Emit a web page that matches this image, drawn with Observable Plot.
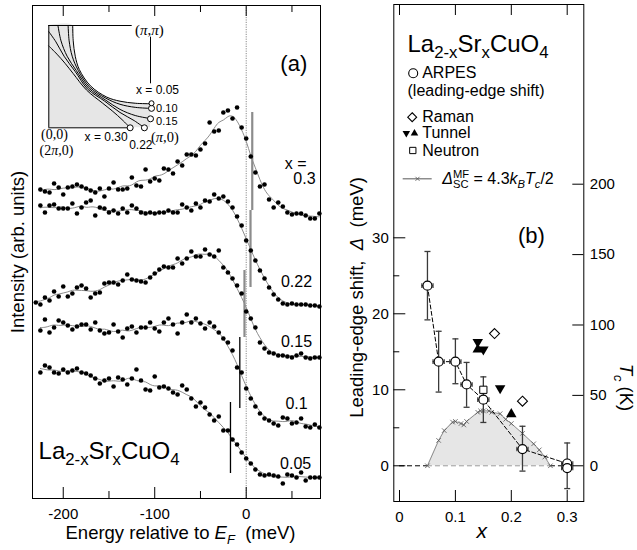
<!DOCTYPE html>
<html>
<head>
<meta charset="utf-8">
<script src="https://cdn.jsdelivr.net/npm/d3@7"></script>
<script src="https://cdn.jsdelivr.net/npm/@observablehq/plot@0.6"></script>
<style>
  html, body { margin: 0; padding: 0; background: #fff; }
  #fig { position: relative; width: 637px; height: 550px; overflow: hidden; background: #fff; }
  #fig svg { position: absolute; }
</style>
</head>
<body>
<div id="fig"></div>
<script>
// ---------- (a) ARPES spectra near (pi,0), offset vertically ----------
const energy = [-230,-225,-220,-215,-210,-205,-200,-195,-190,-185,-180,-175,-170,-165,-160,-155,-150,-145,-140,-135,-130,-125,-120,-115,-110,-105,-100,-95,-90,-85,-80,-75,-70,-65,-60,-55,-50,-45,-40,-35,-30,-25,-20,-15,-10,-5,0,5,10,15,20,25,30,35,40,45,50,55,60,65,70,75,80];

const int03 = [null,309,307,306,315,311,304,311,312,314,312,310,308,306,310,302,310,316,309,309,310,321,313,312,329,317,320,318,330,329,325,337,333,344,344,343,349,355,376,367,368,386,388,380,391,371,360,342,326,312,314,299,291,296,292,286,284,285,285,283,280,280,285];
const int022 = [null,293,286,293,294,290,290,290,295,285,291,296,298,283,291,290,286,288,285,290,286,293,290,286,285,286,285,286,286,288,286,286,294,291,288,295,291,298,297,304,300,302,297,291,282,273,258,248,238,228,220,211,204,199,195,194,195,194,194,194,193,193,192];
const int015 = [196,194,201,198,207,202,212,202,205,211,213,210,201,205,206,215,216,216,214,218,224,219,218,217,216,221,225,229,232,231,231,240,235,240,247,242,242,249,244,242,248,231,226,220,213,205,187,180,171,156,150,146,145,143,143,142,141,143,145,141,140,141,141];
const int01 = [null,168,179,166,171,178,176,173,169,172,174,174,169,176,168,165,166,174,167,161,170,172,166,171,171,176,170,167,176,180,174,165,176,184,176,180,175,170,176,172,166,160,156,148,131,126,110,100,92,85,80,78,75,73,81,80,75,76,80,72,71,74,71];
const int005 = [null,126,133,131,126,125,129,126,128,130,126,125,123,120,115,118,120,112,121,119,114,120,129,118,109,108,122,111,112,110,106,104,113,109,100,92,96,91,84,78,82,68,68,59,54,46,40,35,29,24,23,24,23,22,15,24,23,21,26,18,21,21,21];

const spectraDoping = ["0.3", "0.22", "0.15", "0.1", "0.05"];
const spectraValues = [int03, int022, int015, int01, int005];

// leading-edge midpoint of each spectrum (meV) and the span of its marker
const edgeE = [6.6, 4.7, -1.9, -7.0, -17.2];
const edgeTop = [386, 288, 228, 161, 96];
const edgeBottom = [288, 211, 161, 90, 25];

const energyMajorTicks = [-200, -100, 0];
const energyMinorTicks = [-150, -50, 50];

// ---------- inset: Fermi surfaces in the first quadrant (units of pi) ----------
const fsDoping = ["0.05", "0.10", "0.15", "0.22", "0.30"];
const fs005 = [[0.235,1],[0.24,0.85],[0.26,0.7],[0.3,0.57],[0.41,0.41],[0.57,0.3],[0.7,0.26],[0.85,0.24],[1,0.235]];
const fs010 = [[0.19,1],[0.2,0.85],[0.23,0.7],[0.29,0.56],[0.4,0.4],[0.56,0.29],[0.7,0.23],[0.85,0.2],[1,0.19]];
const fs015 = [[0.09,1],[0.12,0.85],[0.18,0.7],[0.27,0.56],[0.39,0.39],[0.56,0.27],[0.7,0.18],[0.85,0.12],[1,0.09]];
const fs022 = [[0,0.94],[0.07,0.84],[0.15,0.7],[0.26,0.55],[0.38,0.38],[0.55,0.26],[0.7,0.15],[0.84,0.07],[0.94,0]];
const fs030 = [[0,0.8],[0.08,0.72],[0.16,0.63],[0.24,0.53],[0.37,0.37],[0.53,0.24],[0.63,0.16],[0.72,0.08],[0.8,0]];
const fsCurves = [fs005, fs010, fs015, fs022, fs030];
const spotKx = [1.01, 1.01, 1.0, 0.94, 0.80];
const spotKy = [0.24, 0.19, 0.088, 0, 0];

// ---------- (b) gap versus doping ----------
const arpesX = [0.05, 0.07, 0.10, 0.12, 0.15, 0.22, 0.30, 0.30];
const arpesGap = [23.7, 13.7, 13.7, 10.7, 8.7, 2.2, 0.3, -0.3];
const arpesHi = [28.2, 17.7, 16.7, 13.6, 11.7, 5.2, 3.0, null];
const arpesLo = [19.2, 9.7, 10.8, 7.7, 5.7, -0.7, -3.0, null];
const arpesXErr = 0.01;

const ramanX = [0.17, 0.22];
const ramanGap = [17.4, 8.5];
const tunnelDownX = [0.14, 0.15, 0.18];
const tunnelDownGap = [16.3, 15.3, 10.2];
const tunnelUpX = [0.14, 0.20];
const tunnelUpGap = [15.3, 6.8];
const neutronX = [0.15];
const neutronGap = [10.0];

// superconducting Tc (K) used for the mean-field gap
const mfX = [0.05, 0.07, 0.08, 0.095, 0.10, 0.11, 0.115, 0.12, 0.14, 0.145, 0.15, 0.16, 0.165, 0.18, 0.19, 0.20, 0.22, 0.24, 0.25, 0.26, 0.27];
const mfTc = [0, 18, 25, 31, 31.5, 30, 29, 31.5, 38, 39, 39, 39, 38, 37, 33, 30, 23, 15.6, 11.3, 6.2, 0];

const gapMajorTicks = [0, 10, 20, 30];
const gapMinorTicks = [5, 15, 25];
const tcTicks = [0, 50, 100, 150, 200];
const dopingTicks = [0, 0.1, 0.2, 0.3];

// Delta_MF = 4.3 k_B Tc / 2, in meV per K
const kMF = 4.3 * 0.08617 / 2;

const FONT = "'Liberation Sans', Arial, Helvetica, sans-serif";
const SERIF = "'Liberation Serif', 'Times New Roman', serif";
const svgStyle = {fontFamily: FONT, background: "transparent", overflow: "visible", color: "black"};

// short horizontal / vertical bars used as error-bar caps
const hCap = {draw(ctx, size) { const w = Math.sqrt(size) / 2; ctx.moveTo(-w, 0); ctx.lineTo(w, 0); }};
const vCap = {draw(ctx, size) { const h = Math.sqrt(size) / 2; ctx.moveTo(0, -h); ctx.lineTo(0, h); }};

// ================= panel (a) =================
const rowsA = [];
spectraDoping.forEach((x, j) => spectraValues[j].forEach((v, i) => {
  if (v != null) rowsA.push({x, E: energy[i], I: v});
}));
const edges = spectraDoping.map((x, j) => ({x, E: edgeE[j], top: edgeTop[j], bottom: edgeBottom[j], dark: j >= 3}));

const innerHA = 550 - 5 - 52;
const plotA = Plot.plot({
  width: 330, height: 550,
  marginLeft: 32, marginRight: 10, marginTop: 5, marginBottom: 52,
  x: {domain: [-233.6, 81.2], axis: null, label: null},
  y: {domain: [0, 493], axis: null, label: null},
  style: svgStyle,
  marks: [
    Plot.ruleX([0], {stroke: "#8a8a8a", strokeDasharray: "1.2,1.2"}),
    Plot.lineY(rowsA, Plot.windowY({k: 5, anchor: "middle"}, {x: "E", y: "I", z: "x", stroke: "#8c8c8c", strokeWidth: 1, curve: "basis"})),
    Plot.ruleX(edges, {x: "E", y1: "bottom", y2: "top", stroke: d => d.dark ? "#000000" : "#8c8c8c", strokeWidth: d => d.dark ? 1.3 : 2.2}),
    Plot.dot(rowsA, {x: "E", y: "I", r: 2.3, fill: "black"}),
    // curve labels
    Plot.text(["x ="], {x: 54, y: 335, text: d => d, fontSize: 16}),
    Plot.text(["0.3"], {x: 63.7, y: 320, text: d => d, fontSize: 16}),
    Plot.text(["0.22"], {x: 55, y: 217, text: d => d, fontSize: 16}),
    Plot.text(["0.15"], {x: 55, y: 157, text: d => d, fontSize: 16}),
    Plot.text(["0.1"], {x: 55, y: 95, text: d => d, fontSize: 16}),
    Plot.text(["0.05"], {x: 54, y: 35, text: d => d, fontSize: 16}),
    Plot.text(["(a)"], {x: 52, y: 435, text: d => d, fontSize: 22}),
    Plot.text(["La_{2-x}Sr_{x}CuO_{4}"], {x: -227, y: 40, text: d => d, fontSize: 24, textAnchor: "start", lineAnchor: "bottom"}),
    // frame and inward ticks
    Plot.frame({stroke: "black"}),
    Plot.ruleX(energyMajorTicks, {insetTop: innerHA - 11, stroke: "black"}),
    Plot.ruleX(energyMinorTicks, {insetTop: innerHA - 7, stroke: "black"}),
    Plot.ruleX(energyMajorTicks, {insetBottom: innerHA - 11, stroke: "black"}),
    Plot.ruleX(energyMinorTicks, {insetBottom: innerHA - 7, stroke: "black"}),
    Plot.axisX(energyMajorTicks, {anchor: "bottom", tickSize: 0, tickPadding: 10, fontSize: 15, tickFormat: d => String(d), label: null}),
    Plot.text(["Energy relative to *E*_{*F*}  (meV)"], {frameAnchor: "bottom", dx: 4, dy: 40, textAnchor: "middle", lineAnchor: "bottom", text: d => d, fontSize: 18.5}),
    Plot.text(["Intensity (arb. units)"], {frameAnchor: "left", dx: -14, rotate: -90, textAnchor: "middle", lineAnchor: "middle", text: d => d, fontSize: 18.5})
  ]
});

// ================= inset =================
const fsRows = [];
fsDoping.forEach((x, j) => fsCurves[j].forEach(([kx, ky]) => fsRows.push({x, kx, ky})));
const fsFill = [{kx: 0, ky: 1}, ...fs005.map(([kx, ky]) => ({kx, ky}))];
const spots = fsDoping.map((x, j) => ({x, kx: spotKx[j], ky: spotKy[j]}));

const inset = Plot.plot({
  width: 150, height: 142,
  marginLeft: 10.3, marginRight: 38, marginTop: 10, marginBottom: 29.7,
  x: {domain: [0, 1], axis: null, label: null},
  y: {domain: [0, 1], axis: null, label: null},
  style: svgStyle,
  marks: [
    Plot.areaY(fsFill, {x: "kx", y: "ky", fill: "#e6e6e6", curve: "catmull-rom"}),
    Plot.line(fsRows, {x: "kx", y: "ky", z: "x", stroke: "black", strokeWidth: 1, curve: "catmull-rom"}),
    Plot.ruleY([1], {x1: 0, x2: 0.82, stroke: "black"}),
    Plot.ruleY([0], {x1: 0, x2: 0.8, stroke: "black"}),
    Plot.ruleX([0], {y1: 0, y2: 1, stroke: "black"}),
    Plot.ruleX([1], {y1: 0.43, y2: 0.886, stroke: "black"}),
    Plot.dot(spots, {x: "kx", y: "ky", r: d => d.x === "0.05" ? 3 : 4.3, fill: "white", stroke: "black", strokeWidth: 1}),
    Plot.text(["(*π*,*π*)"], {x: 0.99, y: 0.951, text: d => d, fontFamily: SERIF, fontSize: 15}),
    Plot.text(["x = 0.05"], {x: 1.069, y: 0.365, text: d => d, fontSize: 12}),
    Plot.text(["0.10"], {x: 1.055, y: 0.19, text: d => d, fontSize: 11, textAnchor: "start"}),
    Plot.text(["0.15"], {x: 1.055, y: 0.058, text: d => d, fontSize: 11, textAnchor: "start"}),
    Plot.text(["x = 0.30"], {x: 0.775, y: -0.092, text: d => d, fontSize: 12, textAnchor: "end"}),
    Plot.text(["0.22"], {x: 0.79, y: -0.165, text: d => d, fontSize: 12, textAnchor: "start"}),
    Plot.text(["(*π*,0)"], {x: 1.005, y: -0.092, text: d => d, fontFamily: SERIF, fontSize: 14.5, textAnchor: "start"}),
    Plot.text(["(0,0)"], {x: 0.056, y: -0.07, text: d => d, fontFamily: SERIF, fontSize: 14}),
    Plot.text(["(2*π*,0)"], {x: 0.076, y: -0.225, text: d => d, fontFamily: SERIF, fontSize: 14})
  ]
});

// ================= panel (b) =================
const arpes = arpesX.map((x, i) => ({x, gap: arpesGap[i], lo: arpesLo[i], hi: arpesHi[i]}));
const arpesBars = arpes.filter(d => d.hi != null);
const mf = mfX.map((x, i) => ({x, gap: mfTc[i] * kMF}));
const raman = ramanX.map((x, i) => ({x, gap: ramanGap[i]}));
const tunnelDown = tunnelDownX.map((x, i) => ({x, gap: tunnelDownGap[i]}));
const tunnelUp = tunnelUpX.map((x, i) => ({x, gap: tunnelUpGap[i]}));
const neutron = neutronX.map((x, i) => ({x, gap: neutronGap[i]}));

const innerWB = 307 - 63.3 - 53.7;
const innerHB = 550 - 4 - 49;
const barColor = "#3a3a3a";
const plotB = Plot.plot({
  width: 307, height: 550,
  marginLeft: 63.3, marginRight: 53.7, marginTop: 4, marginBottom: 49,
  x: {domain: [-0.0102, 0.3297], axis: null, label: null},
  y: {domain: [-4.7, 60.7], axis: null, label: null},
  style: svgStyle,
  marks: [
    Plot.areaY(mf, {x: "x", y: "gap", fill: "#e6e6e6"}),
    Plot.ruleY([0], {x1: 0, x2: 0.05, stroke: "black", strokeDasharray: "5,3"}),
    Plot.ruleY([0], {x1: 0.05, x2: 0.27, stroke: "#9a9a9a", strokeDasharray: "5,3"}),
    Plot.ruleY([0], {x1: 0.27, x2: 0.30, stroke: "black", strokeDasharray: "5,3"}),
    Plot.line(mf, {x: "x", y: "gap", stroke: "#8c8c8c", strokeWidth: 1}),
    Plot.dot(mf, {x: "x", y: "gap", symbol: "times", r: 2.2, stroke: "#555", strokeWidth: 0.8}),
    Plot.line(arpesBars, {x: "x", y: "gap", stroke: "black", strokeWidth: 1, strokeDasharray: "4,2.5"}),
    // error bars
    Plot.ruleX(arpesBars, {x: "x", y1: "lo", y2: "hi", stroke: barColor, strokeWidth: 1.3}),
    Plot.dot(arpesBars, {x: "x", y: "hi", symbol: hCap, r: 3.4, fill: "none", stroke: barColor, strokeWidth: 1.3}),
    Plot.dot(arpesBars, {x: "x", y: "lo", symbol: hCap, r: 3.4, fill: "none", stroke: barColor, strokeWidth: 1.3}),
    Plot.ruleY(arpes, {y: "gap", x1: d => d.x - arpesXErr, x2: d => d.x + arpesXErr, stroke: barColor, strokeWidth: 1.2}),
    Plot.dot(arpes, {x: d => d.x - arpesXErr, y: "gap", symbol: vCap, r: 2.6, fill: "none", stroke: barColor, strokeWidth: 1.2}),
    Plot.dot(arpes, {x: d => d.x + arpesXErr, y: "gap", symbol: vCap, r: 2.6, fill: "none", stroke: barColor, strokeWidth: 1.2}),
    Plot.dot(arpes, {x: "x", y: "gap", r: 4.5, fill: "white", stroke: "black", strokeWidth: 1.2}),
    Plot.dot(raman, {x: "x", y: "gap", symbol: "diamond2", r: 4.5, fill: "white", stroke: "black", strokeWidth: 1.1}),
    Plot.dot(tunnelDown, {x: "x", y: "gap", symbol: "triangle", r: 3.9, fill: "black", rotate: 180}),
    Plot.dot(tunnelUp, {x: "x", y: "gap", symbol: "triangle", r: 3.9, fill: "black"}),
    Plot.dot(neutron, {x: "x", y: "gap", symbol: "square2", r: 4.6, fill: "white", stroke: "black", strokeWidth: 1}),
    // legend
    Plot.text(["La_{2-x}Sr_{x}CuO_{4}"], {x: 0.0143, y: 54.5, text: d => d, fontSize: 24, textAnchor: "start", lineAnchor: "bottom"}),
    Plot.dot([0], {x: 0.0245, y: 51.66, r: 4.5, fill: "white", stroke: "black", strokeWidth: 1.1}),
    Plot.text(["ARPES"], {x: 0.0406, y: 51.66, text: d => d, fontSize: 16, textAnchor: "start"}),
    Plot.text(["(leading-edge shift)"], {x: 0.0143, y: 49.38, text: d => d, fontSize: 16, textAnchor: "start"}),
    Plot.dot([0], {x: 0.0227, y: 45.87, symbol: "diamond2", r: 4, fill: "white", stroke: "black", strokeWidth: 1.1}),
    Plot.text(["Raman"], {x: 0.0406, y: 45.87, text: d => d, fontSize: 16, textAnchor: "start"}),
    Plot.dot([0], {x: 0.0122, y: 43.76, symbol: "triangle", r: 2.8, fill: "black", rotate: 180}),
    Plot.dot([0], {x: 0.0268, y: 43.76, symbol: "triangle", r: 2.8, fill: "black"}),
    Plot.text(["Tunnel"], {x: 0.0406, y: 43.76, text: d => d, fontSize: 16, textAnchor: "start"}),
    Plot.dot([0], {x: 0.0238, y: 41.49, symbol: "square2", r: 4, fill: "white", stroke: "black", strokeWidth: 1}),
    Plot.text(["Neutron"], {x: 0.0406, y: 41.49, text: d => d, fontSize: 16, textAnchor: "start"}),
    Plot.ruleY([37.76], {x1: 0.0066, x2: 0.0585, stroke: "#555", strokeWidth: 1}),
    Plot.dot([0], {x: 0.0322, y: 37.76, symbol: "times", r: 2, stroke: "#555", strokeWidth: 0.8}),
    Plot.text(["*Δ*_{SC}^{MF} = 4.3*k*_{*B*}*T*_{*c*}/2"], {x: 0.0764, y: 37.76, text: d => d, fontSize: 16, textAnchor: "start"}),
    Plot.text(["(b)"], {x: 0.2361, y: 30.3, text: d => d, fontSize: 22}),
    // frame and inward ticks
    Plot.frame({stroke: "black"}),
    Plot.ruleX(dopingTicks, {insetTop: innerHB - 11, stroke: "black"}),
    Plot.ruleX(dopingTicks, {insetBottom: innerHB - 11, stroke: "black"}),
    Plot.ruleY(gapMajorTicks, {insetRight: innerWB - 12, stroke: "black"}),
    Plot.ruleY(gapMinorTicks, {insetRight: innerWB - 6, stroke: "black"}),
    Plot.ruleY(tcTicks, {y: d => d * kMF, insetLeft: innerWB - 11, stroke: "black"}),
    Plot.axisX(dopingTicks, {anchor: "bottom", tickSize: 0, tickPadding: 10, fontSize: 15, tickFormat: d => String(d), label: null}),
    Plot.axisY(gapMajorTicks, {anchor: "left", tickSize: 0, tickPadding: 5, fontSize: 15, tickFormat: d => String(d), label: null}),
    Plot.axisY(tcTicks.map(t => t * kMF), {anchor: "right", tickSize: 0, tickPadding: 6, fontSize: 15, tickFormat: d => String(Math.round(d / kMF)), label: null}),
    Plot.text(["*x*"], {frameAnchor: "bottom", dx: -7, dy: 36, textAnchor: "middle", lineAnchor: "bottom", text: d => d, fontSize: 21}),
    Plot.text(["Leading-edge shift,  *Δ*  (meV)"], {frameAnchor: "left", dx: -36.3, dy: 44.5, rotate: -90, textAnchor: "middle", lineAnchor: "middle", text: d => d, fontSize: 18.5}),
    Plot.text(["*T*_{*c*} (K)"], {frameAnchor: "right", dx: 41.7, dy: 134.5, rotate: 90, textAnchor: "middle", lineAnchor: "middle", text: d => d, fontSize: 18.5})
  ]
});

// ---------- assemble ----------
const fig = document.getElementById("fig");
plotA.style.left = "0px"; plotA.style.top = "0px";
plotB.style.left = "330px"; plotB.style.top = "0px";
inset.style.left = "38px"; inset.style.top = "15px";
fig.append(plotA, plotB, inset);

// Turn *italic*, _{sub} and ^{sup} markup in text elements into tspans.
function richText(svg) {
  const NS = "http://www.w3.org/2000/svg";
  svg.querySelectorAll("text").forEach(t => {
    const src = t.textContent;
    if (!/[*_^]/.test(src)) return;
    const fs = parseFloat(getComputedStyle(t).fontSize) || 12;
    const runs = [];
    let italic = false, buf = "", i = 0;
    const flush = () => { if (buf) runs.push({s: buf, italic, kind: null}); buf = ""; };
    while (i < src.length) {
      const c = src[i];
      if (c === "*") { flush(); italic = !italic; i++; }
      else if ((c === "_" || c === "^") && src[i + 1] === "{") {
        flush();
        const end = src.indexOf("}", i);
        let inner = src.slice(i + 2, end);
        let it = italic;
        if (inner.includes("*")) { it = true; inner = inner.replace(/\*/g, ""); }
        runs.push({s: inner, italic: it, kind: c === "_" ? "sub" : "sup"});
        i = end + 1;
      } else { buf += c; i++; }
    }
    flush();
    t.textContent = "";
    let shift = 0, prev = null, extra = 0;
    runs.forEach(r => {
      const ts = document.createElementNS(NS, "tspan");
      ts.textContent = r.s;
      const target = r.kind === "sub" ? 0.28 * fs : r.kind === "sup" ? -0.4 * fs : 0;
      ts.setAttribute("dy", target - shift);
      shift = target;
      if (r.kind) ts.setAttribute("font-size", 0.7 * fs);
      if (r.italic) ts.setAttribute("font-style", "italic");
      if (extra) { ts.setAttribute("dx", extra); extra = 0; }
      t.appendChild(ts);
      if (r.kind === "sup" && prev && prev.kind === "sub") {
        const wSub = prev.el.getComputedTextLength();
        ts.setAttribute("dx", -wSub);
        const wSup = ts.getComputedTextLength();
        if (wSub > wSup) extra = wSub - wSup;
      }
      prev = {kind: r.kind, el: ts};
    });
  });
}
[plotA, plotB, inset].forEach(richText);
</script>
</body>
</html>
